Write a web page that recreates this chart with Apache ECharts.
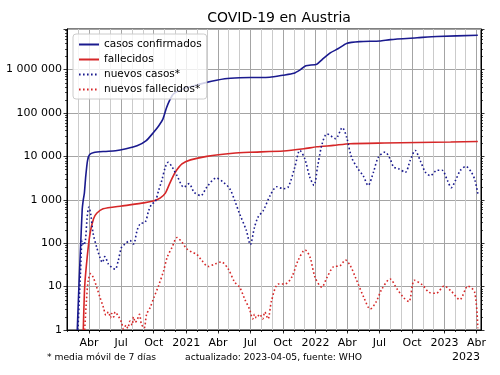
<!DOCTYPE html>
<html>
<head>
<meta charset="utf-8">
<script src="https://cdn.jsdelivr.net/npm/echarts@6/dist/echarts.min.js"></script>
<style>
    html, body { margin: 0; padding: 0; background: #fff; }
    #chart { width: 500px; height: 375px; }
</style>
</head>
<body>
<div id="chart"></div>
<script>
// datos (WHO, Austria)
var casosConfirmados = [
    ['2020-02-28', 1], ['2020-03-04', 12], ['2020-03-09', 110], ['2020-03-13', 600],
    ['2020-03-16', 1000], ['2020-03-19', 1400], ['2020-03-23', 3500], ['2020-03-28', 8000],
    ['2020-04-03', 11000], ['2020-04-15', 12300], ['2020-05-15', 13000], ['2020-06-15', 13500],
    ['2020-07-15', 15000], ['2020-08-15', 17500], ['2020-09-10', 23000], ['2020-10-01', 36000],
    ['2020-10-15', 50000], ['2020-10-27', 72000], ['2020-11-06', 130000], ['2020-11-15', 195000],
    ['2020-11-26', 275000], ['2020-12-15', 340000], ['2021-01-05', 385000], ['2021-02-25', 500000],
    ['2021-04-20', 615000], ['2021-06-01', 650000], ['2021-07-15', 655000], ['2021-08-25', 665000],
    ['2021-10-01', 740000], ['2021-11-01', 820000], ['2021-11-20', 1000000], ['2021-12-05', 1220000],
    ['2022-01-05', 1330000], ['2022-01-20', 1700000], ['2022-02-13', 2450000], ['2022-03-07', 3050000],
    ['2022-03-30', 4000000], ['2022-05-06', 4400000], ['2022-07-02', 4550000], ['2022-08-01', 4900000],
    ['2022-10-16', 5400000], ['2022-12-10', 5800000], ['2023-04-05', 6150000]
];
var fallecidos = [
    ['2020-03-16', 1], ['2020-03-20', 10], ['2020-03-27', 47], ['2020-04-04', 165],
    ['2020-04-14', 365], ['2020-04-23', 490], ['2020-05-11', 620], ['2020-07-02', 720],
    ['2020-09-03', 850], ['2020-10-02', 950], ['2020-10-19', 1090], ['2020-11-03', 1420],
    ['2020-11-17', 2560], ['2020-12-01', 4300], ['2020-12-20', 6700], ['2021-01-13', 8300],
    ['2021-02-28', 10000], ['2021-05-13', 11800], ['2021-06-29', 12400], ['2021-10-03', 13300],
    ['2021-11-30', 15000], ['2022-01-05', 16600], ['2022-02-21', 17900], ['2022-04-08', 19600],
    ['2022-07-15', 20300], ['2023-01-18', 21400], ['2023-04-05', 22000]
];
var nuevosCasos = [
    ['2020-03-01', 1], ['2020-03-08', 20], ['2020-03-13', 115], ['2020-03-17', 90],
    ['2020-03-22', 115], ['2020-03-27', 400], ['2020-04-01', 680], ['2020-04-06', 470],
    ['2020-04-13', 165], ['2020-04-23', 80], ['2020-05-02', 47], ['2020-05-09', 36],
    ['2020-05-16', 49], ['2020-05-26', 33], ['2020-06-04', 28], ['2020-06-14', 25],
    ['2020-06-23', 40], ['2020-07-02', 80], ['2020-07-12', 96], ['2020-07-26', 115],
    ['2020-08-05', 96], ['2020-08-15', 195], ['2020-08-24', 280], ['2020-09-07', 305],
    ['2020-09-17', 570], ['2020-09-26', 810], ['2020-10-05', 880], ['2020-10-15', 1650],
    ['2020-10-24', 2800], ['2020-11-03', 5700], ['2020-11-11', 7300], ['2020-11-22', 5700],
    ['2020-12-06', 3600], ['2020-12-25', 1950], ['2021-01-09', 2350], ['2021-01-23', 1500],
    ['2021-02-11', 1250], ['2021-02-28', 1950], ['2021-03-27', 3160], ['2021-04-15', 2570],
    ['2021-05-04', 1800], ['2021-05-18', 960], ['2021-06-01', 470], ['2021-06-20', 195],
    ['2021-07-01', 93], ['2021-07-13', 235], ['2021-07-23', 400], ['2021-08-07', 570],
    ['2021-08-26', 1250], ['2021-09-14', 2000], ['2021-10-02', 1800], ['2021-10-16', 1950],
    ['2021-11-04', 5700], ['2021-11-18', 13700], ['2021-12-02', 8800], ['2021-12-16', 3360],
    ['2021-12-28', 2150], ['2022-01-07', 5700], ['2022-01-20', 19500], ['2022-02-03', 33000],
    ['2022-02-27', 25600], ['2022-03-18', 46000], ['2022-03-30', 28000], ['2022-04-13', 9600],
    ['2022-05-01', 5200], ['2022-05-16', 3600], ['2022-05-30', 2150], ['2022-06-14', 4300],
    ['2022-06-28', 9600], ['2022-07-17', 12600], ['2022-07-31', 8800], ['2022-08-10', 5700],
    ['2022-08-24', 5200], ['2022-09-12', 4300], ['2022-09-26', 8100], ['2022-10-10', 13700],
    ['2022-10-24', 8100], ['2022-11-08', 4300], ['2022-11-22', 3600], ['2022-12-11', 4800],
    ['2022-12-25', 4800], ['2023-01-09', 2800], ['2023-01-20', 1900], ['2023-02-01', 2800],
    ['2023-02-15', 4800], ['2023-03-02', 5850], ['2023-03-18', 4300], ['2023-03-28', 2800],
    ['2023-04-05', 1380]
];
var nuevosFallecidos = [
    ['2020-03-20', 1], ['2020-03-25', 4.8], ['2020-03-30', 13.8], ['2020-04-06', 20],
    ['2020-04-13', 16.4], ['2020-04-23', 9.7], ['2020-05-02', 5.7], ['2020-05-12', 3.3],
    ['2020-05-19', 2.2], ['2020-05-26', 2.6], ['2020-06-01', 1.9], ['2020-06-04', 2.4],
    ['2020-06-10', 2.0], ['2020-06-14', 2.6], ['2020-06-23', 2.1], ['2020-07-02', 1.5],
    ['2020-07-08', 1.05], ['2020-07-15', 1.3], ['2020-07-20', 1.1], ['2020-07-26', 1.6],
    ['2020-08-01', 1.3], ['2020-08-05', 2.0], ['2020-08-10', 1.5], ['2020-08-15', 1.7],
    ['2020-08-22', 2.3], ['2020-08-27', 1.4], ['2020-09-04', 1.1], ['2020-09-11', 2.3],
    ['2020-09-21', 3.3], ['2020-10-02', 5.7], ['2020-10-15', 10.6], ['2020-10-29', 23],
    ['2020-11-08', 47], ['2020-11-22', 81], ['2020-12-06', 135], ['2020-12-20', 105],
    ['2021-01-02', 75], ['2021-01-17', 62], ['2021-01-31', 55], ['2021-02-14', 40],
    ['2021-03-04', 29], ['2021-03-22', 33], ['2021-04-10', 37], ['2021-04-29', 26],
    ['2021-05-18', 12.6], ['2021-06-01', 9.7], ['2021-06-15', 5.2], ['2021-06-29', 3.0],
    ['2021-07-08', 1.8], ['2021-07-13', 2.3], ['2021-07-18', 1.9], ['2021-07-28', 2.3],
    ['2021-08-05', 1.8], ['2021-08-11', 2.6], ['2021-08-20', 1.8], ['2021-08-30', 4.7],
    ['2021-09-18', 11.5], ['2021-10-07', 11.5], ['2021-10-26', 16.4], ['2021-11-13', 40],
    ['2021-12-03', 70], ['2021-12-17', 47], ['2021-12-31', 16.4], ['2022-01-19', 9.7],
    ['2022-02-03', 16.4], ['2022-02-22', 29], ['2022-03-11', 30], ['2022-03-27', 41],
    ['2022-04-10', 30], ['2022-04-24', 16.4], ['2022-05-18', 5.6], ['2022-06-05', 3.05],
    ['2022-06-22', 4.5], ['2022-07-07', 8.5], ['2022-07-31', 15], ['2022-08-19', 9],
    ['2022-09-08', 5.5], ['2022-09-22', 4.5], ['2022-10-08', 14], ['2022-10-30', 11],
    ['2022-11-18', 7.4], ['2022-12-08', 7], ['2022-12-31', 10.3], ['2023-01-20', 7.8],
    ['2023-02-13', 5], ['2023-03-08', 10.3], ['2023-03-27', 7.4], ['2023-04-05', 1.1]
];

// etiquetas del eje x (el año se muestra en enero)
var mesesTrimestre = { '04': 'Abr', '07': 'Jul', '10': 'Oct' };
var fechaInicio = '2020-01-30';
var fechaFin = '2023-04-14';
var yMin = 1;
var yMax = 8600000;

var AZUL = '#1a1a8e';
var ROJO = '#d62728';
var FUENTE = 'DejaVu Sans';

(function () {
    // un eje de categorías con un día por categoría
    var dias = [];
    var d = new Date(fechaInicio + 'T00:00:00Z');
    var fin = new Date(fechaFin + 'T00:00:00Z');
    while (d <= fin) {
        dias.push(d.toISOString().slice(0, 10));
        d = new Date(d.getTime() + 86400000);
    }

    function esMes(idx, val) {
        return val.slice(8) === '01';
    }
    function esTrimestre(idx, val) {
        var m = val.slice(5, 7);
        return val.slice(8) === '01' && (m === '01' || m === '04' || m === '07' || m === '10');
    }
    function etiquetaX(val) {
        var m = val.slice(5, 7);
        if (m === '01') return val.slice(0, 4);
        return mesesTrimestre[m] || '';
    }
    function etiquetaY(v) {
        var l = Math.log(v) / Math.LN10;
        if (Math.abs(l - Math.round(l)) > 1e-6) return '';
        return String(Math.round(v)).replace(/\B(?=(\d{3})+(?!\d))/g, ' ');
    }

    // marcas menores del eje log (2..9 x 10^n)
    var marcasMenores = [];
    for (var n = 0; n < 7; n++) {
        for (var k = 2; k <= 9; k++) {
            var v = k * Math.pow(10, n);
            if (v < yMax) marcasMenores.push([dias[0], v]);
        }
    }

    function linea(nombre, datos, color, punteada) {
        return {
            name: nombre,
            type: 'line',
            data: datos,
            symbol: 'none',
            smooth: punteada ? 0.3 : 0.2,
            animation: false,
            lineStyle: {
                color: color,
                width: 1.6,
                type: punteada ? [1.6, 2.4] : 'solid'
            },
            itemStyle: { color: color },
            z: 3
        };
    }

    var myChart = echarts.init(document.getElementById('chart'));
    var options = {
        animation: false,
        backgroundColor: '#fff',
        title: {
            text: 'COVID-19 en Austria',
            left: 274,
            top: 6,
            textAlign: 'center',
            textStyle: { fontFamily: FUENTE, fontSize: 14, fontWeight: 'normal', color: '#000' }
        },
        grid: {
            left: 67, right: 19, top: 29, bottom: 45,
            show: true, borderColor: '#000', borderWidth: 1, backgroundColor: 'transparent'
        },
        legend: {
            data: ['casos confirmados', 'fallecidos', 'nuevos casos*', 'nuevos fallecidos*'],
            orient: 'vertical',
            left: 73, top: 34,
            padding: [5, 5, 4, 5],
            itemWidth: 20, itemHeight: 10, itemGap: 4,
            itemStyle: { opacity: 0 },
            backgroundColor: 'rgba(255,255,255,0.8)',
            borderColor: '#cccccc', borderWidth: 1, borderRadius: 3,
            textStyle: { fontFamily: FUENTE, fontSize: 10.5, color: '#000' },
            z: 10
        },
        xAxis: [
            {
                // meses: rejilla clara y marcas cortas
                type: 'category', data: dias, boundaryGap: false,
                axisLine: { show: true, lineStyle: { color: '#000', width: 1 } },
                axisTick: { show: true, interval: esMes, length: 2, lineStyle: { color: '#000', width: 0.8 } },
                axisLabel: { show: false },
                splitLine: { show: true, interval: esMes, lineStyle: { color: '#cbcbcb', width: 1 } }
            },
            {
                // trimestres: rejilla oscura y etiquetas
                type: 'category', data: dias, boundaryGap: false, position: 'bottom',
                axisLine: { show: false },
                axisTick: { show: true, interval: esTrimestre, length: 3.5, lineStyle: { color: '#000', width: 0.8 } },
                axisLabel: {
                    show: true, interval: esTrimestre, formatter: etiquetaX, margin: 8,
                    fontFamily: FUENTE, fontSize: 11, color: '#000'
                },
                splitLine: { show: true, interval: esTrimestre, lineStyle: { color: '#a4a4a4', width: 1 } }
            }
        ],
        yAxis: [
            {
                type: 'log', logBase: 10, min: yMin, max: yMax, splitNumber: 7,
                axisLine: { show: true, lineStyle: { color: '#000' } },
                axisTick: { show: true, length: 3.5, lineStyle: { color: '#000', width: 0.8 } },
                axisLabel: { formatter: etiquetaY, margin: 5, fontFamily: FUENTE, fontSize: 11, color: '#000' },
                splitLine: { show: true, lineStyle: { color: '#a4a4a4', width: 1 } }
            },
            {
                type: 'log', logBase: 10, min: yMin, max: yMax, splitNumber: 7, position: 'right',
                axisLine: { show: true, lineStyle: { color: '#000' } },
                axisTick: { show: true, length: 3.5, lineStyle: { color: '#000', width: 0.8 } },
                axisLabel: { show: false },
                splitLine: { show: false }
            }
        ],
        series: [
            linea('casos confirmados', casosConfirmados, AZUL, false),
            linea('fallecidos', fallecidos, ROJO, false),
            linea('nuevos casos*', nuevosCasos, AZUL, true),
            linea('nuevos fallecidos*', nuevosFallecidos, ROJO, true),
            {
                name: 'marcas',
                type: 'custom',
                silent: true,
                clip: false,
                z: 5,
                data: marcasMenores,
                renderItem: function (params, api) {
                    var pt = api.coord([api.value(0), api.value(1)]);
                    var cs = params.coordSys;
                    var y = Math.round(pt[1]) + 0.5;
                    var estilo = { stroke: '#000', lineWidth: 0.7 };
                    return {
                        type: 'group',
                        children: [
                            { type: 'line', shape: { x1: cs.x - 2, y1: y, x2: cs.x, y2: y }, style: estilo },
                            { type: 'line', shape: { x1: cs.x + cs.width, y1: y, x2: cs.x + cs.width + 2, y2: y }, style: estilo }
                        ]
                    };
                }
            }
        ],
        graphic: [
            {
                type: 'text', left: 47, top: 353,
                style: { text: '* media móvil de 7 días', fontFamily: FUENTE, fontSize: 9.2, fill: '#000' }
            },
            {
                type: 'text', left: 185, top: 353,
                style: { text: 'actualizado: 2023-04-05, fuente: WHO', fontFamily: FUENTE, fontSize: 9.2, fill: '#000' }
            },
            {
                type: 'text', right: 20, top: 352,
                style: { text: '2023', fontFamily: FUENTE, fontSize: 11, fill: '#000' }
            }
        ]
    };
    myChart.setOption(options);
})();
</script>
</body>
</html>
